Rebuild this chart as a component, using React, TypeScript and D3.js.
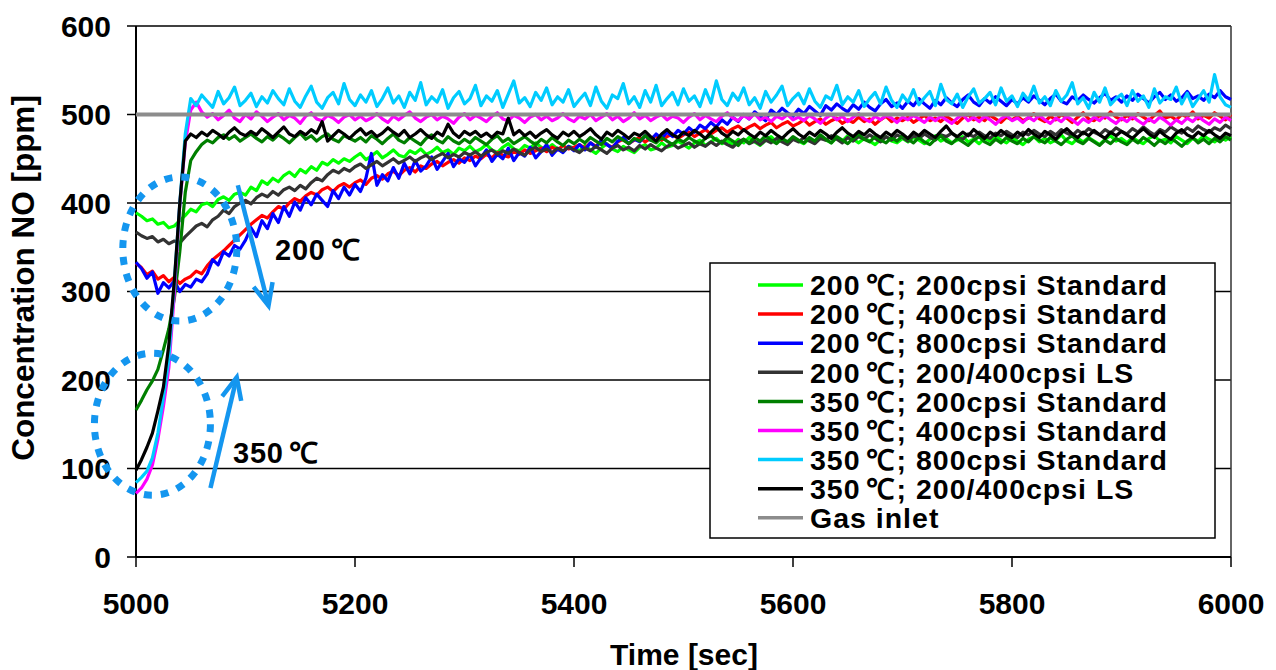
import React from "react";
import * as d3 from "d3";

// Sampling grid: one reading every 5 s from 5000 s to 6000 s
const TIME_START = 5000;
const TIME_STEP = 5;

const xTicks = [5000, 5200, 5400, 5600, 5800, 6000];
const yTicks = [0, 100, 200, 300, 400, 500, 600];

// 200 °C, 200 cpsi Standard
const t200_200 = [
  389,385,380,382,376,378,372,374,380,386,393,390,398,400,396,404,407,403,410,412,409,
  418,414,425,421,428,424,431,435,430,438,434,441,437,446,443,449,445,450,447,452,
  456,449,453,458,451,455,460,454,452,459,456,461,455,458,463,457,460,455,462,459,
  464,458,461,466,460,457,463,467,461,459,465,462,468,463,460,466,461,458,464,462,
  459,465,460,456,462,467,461,458,464,460,457,463,466,460,462,468,463,465,470,466,
  462,468,471,465,469,473,467,470,466,472,468,474,469,465,471,475,469,472,468,474,
  470,467,473,469,475,471,468,474,470,476,472,468,473,470,466,472,475,470,468,473,
  469,474,471,467,472,476,470,473,468,471,475,469,472,467,473,470,476,471,468,474,
  470,466,472,475,469,473,468,471,477,470,467,473,469,474,470,466,472,476,470,473,
  468,474,470,467,473,476,470,472,468,475,471,467,473,470,476,472,469,474,471,475,
];

// 200 °C, 400 cpsi Standard
const t200_400 = [
  332,327,319,323,314,318,311,316,309,314,317,323,320,329,336,341,346,352,358,364,370,
  376,381,386,383,390,396,393,400,405,402,408,412,409,415,418,413,419,422,418,423,
  426,421,428,431,427,433,436,431,437,440,435,442,439,444,447,442,446,449,445,451,
  448,453,450,455,451,457,454,452,458,455,460,456,459,462,458,463,460,465,461,463,
  466,462,468,464,470,466,463,469,472,467,471,474,469,473,476,471,475,478,473,477,
  480,475,479,483,478,482,485,480,484,487,482,486,489,484,488,491,485,489,492,487,
  490,494,488,492,495,489,493,496,490,494,491,497,492,495,489,494,498,492,496,493,
  497,491,495,499,493,496,492,498,494,490,496,500,494,497,493,499,495,491,497,494,
  498,493,496,501,495,492,498,494,500,496,491,497,502,495,493,499,496,503,497,494,
  499,495,501,497,493,499,504,496,498,494,500,497,503,495,499,496,502,498,494,500,
];

// 200 °C, 800 cpsi Standard
const t200_800 = [
  333,326,315,322,298,310,304,312,300,308,305,314,311,320,336,330,345,340,352,348,358,
  372,362,380,371,388,378,396,385,401,392,406,398,410,403,396,414,405,418,409,421,
  413,428,456,420,432,425,440,428,445,433,448,436,442,452,438,447,456,441,450,446,
  455,442,451,460,447,455,450,462,448,457,453,463,451,458,466,454,461,457,464,459,
  466,460,468,463,471,466,462,470,474,467,472,469,476,471,478,473,480,475,482,478,
  485,480,488,484,491,486,494,489,497,492,500,495,503,498,493,505,500,507,502,498,
  506,501,509,504,499,510,505,512,507,503,511,506,514,508,504,512,517,509,513,507,
  515,510,518,512,507,516,511,519,513,509,517,522,514,510,518,513,520,515,510,517,
  512,519,514,521,516,511,518,523,515,512,520,516,522,517,513,519,524,516,520,514,
  521,516,523,518,513,520,525,517,522,515,519,526,518,521,516,523,519,527,520,517,
];

// 200 °C, 200/400 cpsi LS
const t200_ls = [
  367,363,360,362,356,359,354,357,355,362,368,374,377,373,381,385,392,388,396,400,403,
  399,406,410,407,413,409,415,418,414,420,416,423,428,425,432,437,434,439,436,441,
  444,439,443,447,442,446,450,445,448,452,447,451,454,449,453,456,451,455,452,457,
  454,458,453,457,460,455,459,456,461,457,454,460,463,458,461,457,462,459,463,460,
  457,462,459,464,460,456,462,465,460,463,459,465,461,466,462,459,464,467,462,465,
  468,463,467,464,469,465,470,466,463,469,472,467,470,466,471,468,473,469,466,472,
  469,474,470,467,473,471,476,472,468,474,470,475,472,477,473,469,475,471,477,474,
  470,476,473,478,474,471,477,475,479,474,472,478,475,480,476,473,479,476,481,477,
  474,480,477,482,478,475,481,477,483,479,476,482,478,484,480,477,483,479,485,481,
  478,484,480,486,481,477,483,480,486,482,479,485,481,487,483,480,485,482,488,484,
];

// 350 °C, 200 cpsi Standard
const t350_200 = [
  166,177,189,199,212,234,258,292,345,412,448,458,466,471,468,474,477,472,476,470,474,
  478,473,469,475,471,477,473,468,474,479,472,476,470,475,478,472,469,476,473,470,
  474,469,476,472,467,473,478,471,468,474,470,466,473,477,471,468,475,470,467,472,
  468,474,470,466,472,476,469,473,467,471,475,470,466,472,468,474,469,465,471,467,
  472,468,474,470,466,473,469,475,471,467,473,470,476,471,468,474,470,466,472,469,
  474,470,467,473,476,471,468,474,470,465,472,468,474,470,476,471,467,473,469,475,
  471,468,474,470,477,472,468,475,471,467,473,478,472,469,475,471,468,474,470,476,
  472,468,474,469,466,472,476,470,467,473,469,465,471,475,469,466,472,468,474,470,
  467,473,469,475,471,468,474,470,466,472,476,470,467,473,469,465,471,467,473,469,
  466,472,468,474,470,465,471,467,473,469,464,470,474,468,472,467,473,469,475,471,
];

// 350 °C, 400 cpsi Standard
const t350_400 = [
  72,78,88,104,133,170,214,298,398,468,505,514,503,497,501,494,499,505,496,492,500,
  495,503,498,492,497,501,494,499,496,490,498,502,495,493,499,496,491,497,500,494,
  498,493,496,501,495,491,498,494,499,503,496,492,497,500,494,498,495,490,497,501,
  494,499,496,492,498,502,495,493,499,496,491,497,500,494,498,493,496,501,495,492,
  498,495,500,493,497,501,494,498,492,496,502,495,499,493,497,500,494,498,496,491,
  497,501,494,499,495,492,498,502,496,493,499,495,501,494,497,492,498,495,500,494,
  497,493,499,495,490,496,500,494,498,492,497,501,495,492,498,494,499,496,491,497,
  494,499,495,491,497,493,498,494,490,496,500,493,497,492,498,494,489,495,499,493,
  496,491,497,493,499,494,490,496,492,498,494,489,495,491,497,493,499,494,490,496,
  492,498,493,489,495,491,497,493,488,494,490,496,492,498,493,489,495,491,497,493,
];

// 350 °C, 800 cpsi Standard
const t350_800 = [
  84,90,97,112,140,180,224,310,400,478,518,510,522,515,508,526,512,519,531,510,516,
  524,509,520,513,527,518,511,529,515,508,521,532,514,507,519,525,512,535,517,510,
  522,514,527,509,518,530,513,521,508,525,516,536,511,520,514,528,507,519,526,512,
  518,533,510,521,515,527,508,523,538,513,519,509,525,516,530,511,520,514,528,509,
  517,524,510,531,515,507,522,518,535,512,520,508,527,514,533,510,518,525,511,529,
  515,521,509,528,513,538,517,510,524,516,530,511,519,507,526,514,522,532,510,518,
  524,512,529,515,508,521,517,533,511,520,514,527,509,518,525,512,531,516,508,522,
  514,528,511,519,526,510,534,517,512,523,508,520,529,513,518,525,511,530,515,521,
  509,524,516,532,513,520,510,527,515,522,536,512,519,507,525,514,530,511,518,523,
  510,527,515,521,508,529,513,520,517,531,512,524,509,518,527,514,545,520,511,508,
];

// 350 °C, 200/400 cpsi LS
const t350_ls = [
  98,110,124,140,165,192,240,312,400,470,478,474,480,476,482,478,473,480,485,479,476,
  481,477,484,479,474,480,486,478,475,481,477,483,479,492,470,476,482,478,473,479,
  484,477,481,475,479,485,480,476,482,474,478,483,477,473,480,476,489,479,474,481,
  477,481,475,479,474,480,478,496,477,482,476,480,474,479,483,477,473,480,476,481,
  475,479,484,477,472,480,476,482,478,473,479,476,481,475,470,478,483,477,474,480,
  476,482,478,473,480,486,479,475,481,477,483,478,474,480,476,482,477,473,479,484,
  478,474,480,476,482,478,473,480,485,479,475,481,477,483,478,474,480,476,482,478,
  473,480,476,482,478,474,481,487,479,475,480,476,483,478,473,480,476,482,477,474,
  480,476,483,478,474,481,477,472,479,484,478,474,480,476,482,477,473,480,476,481,
  477,473,479,484,478,474,481,476,472,479,483,477,474,480,476,482,477,473,479,476,
];

// Gas inlet: constant feed concentration
const gasInletTimes = [5000, 6000];
const gasInletValues = [500, 500];

// Legend entries: temperature and rest of the description
const seriesTemps = ["200", "200", "200", "200", "350", "350", "350", "350", ""];
const seriesNames = [
  "200cpsi Standard",
  "400cpsi Standard",
  "800cpsi Standard",
  "200/400cpsi LS",
  "200cpsi Standard",
  "400cpsi Standard",
  "800cpsi Standard",
  "200/400cpsi LS",
  "Gas inlet",
];
const seriesColors = [
  "#00ff00", "#ff0000", "#0000ff", "#333333",
  "#007f00", "#ff00ff", "#00ccff", "#000000", "#8c8c8c",
];
const seriesValues = [
  t200_200, t200_400, t200_800, t200_ls,
  t350_200, t350_400, t350_800, t350_ls,
];

const FONT = "'Liberation Sans', Arial, Helvetica, sans-serif";
const ANNOT = "#1496ef";

const W = 1276;
const H = 670;
const plot = { left: 136, right: 1231, top: 26, bottom: 557 };

// Temperature text with a spaced degree-Celsius sign
function Temp({ value, after = "" }: { value: string; after?: string }) {
  return (
    <>
      {value}
      <tspan dx={5}>℃</tspan>
      {after ? <tspan dx={2}>{after}</tspan> : null}
    </>
  );
}

export default function App() {
  const x = d3.scaleLinear().domain([5000, 6000]).range([plot.left, plot.right]);
  const y = d3.scaleLinear().domain([0, 600]).range([plot.bottom, plot.top]);

  const line = d3
    .line<[number, number]>()
    .x((d) => x(d[0]))
    .y((d) => y(d[1]))
    .curve(d3.curveLinear);

  const paths = seriesValues.map((vals) =>
    line(vals.map((v, i) => [TIME_START + i * TIME_STEP, v] as [number, number]))
  );
  const gasPath = line(gasInletTimes.map((t, i) => [t, gasInletValues[i]] as [number, number]));

  // Legend layout
  const lg = { x: 710, y: 263, w: 505, h: 275, row0: 285, dy: 29.1 };

  // Annotation ellipses, placed in data coordinates
  const upper = { cx: x(5040), cy: y(348), rx: 57, ry: 72 };
  const lower = { cx: x(5015), cy: y(150), rx: 58, ry: 71 };

  const arrow = (x1: number, y1: number, x2: number, y2: number) => {
    const ang = Math.atan2(y2 - y1, x2 - x1);
    const len = 24;
    const spread = 0.42;
    const a1 = [x2 - len * Math.cos(ang - spread), y2 - len * Math.sin(ang - spread)];
    const a2 = [x2 - len * Math.cos(ang + spread), y2 - len * Math.sin(ang + spread)];
    return (
      <g stroke={ANNOT} strokeWidth={4.5} fill="none" strokeLinecap="butt" strokeLinejoin="miter">
        <line x1={x1} y1={y1} x2={x2} y2={y2} />
        <polyline points={`${a1[0]},${a1[1]} ${x2},${y2} ${a2[0]},${a2[1]}`} />
      </g>
    );
  };

  return (
    <svg
      width={W}
      height={H}
      style={{ position: "absolute", left: 0, top: 0, background: "#fff" }}
      fontFamily={FONT}
      fontWeight="bold"
    >
      <rect x={0} y={0} width={W} height={H} fill="#fff" />

      {/* horizontal gridlines */}
      {yTicks.map((t) => (
        <line key={`g${t}`} x1={plot.left} x2={plot.right} y1={y(t)} y2={y(t)} stroke="#000" strokeWidth={1.3} />
      ))}
      {/* right border */}
      <line x1={plot.right} x2={plot.right} y1={plot.top} y2={plot.bottom} stroke="#333" strokeWidth={1.5} />

      {/* y axis */}
      <line x1={plot.left} x2={plot.left} y1={plot.top} y2={plot.bottom} stroke="#000" strokeWidth={2} />
      {yTicks.map((t) => (
        <g key={`y${t}`}>
          <line x1={plot.left - 9} x2={plot.left} y1={y(t)} y2={y(t)} stroke="#000" strokeWidth={1.5} />
          <text x={111} y={y(t)} dy="0.36em" textAnchor="end" fontSize={30}>
            {t}
          </text>
        </g>
      ))}

      {/* x axis */}
      <line x1={plot.left} x2={plot.right} y1={plot.bottom} y2={plot.bottom} stroke="#000" strokeWidth={2} />
      {xTicks.map((t) => (
        <g key={`x${t}`}>
          <line x1={x(t)} x2={x(t)} y1={plot.bottom} y2={plot.bottom + 10} stroke="#000" strokeWidth={1.5} />
          <text x={x(t)} y={614} textAnchor="middle" fontSize={30}>
            {t}
          </text>
        </g>
      ))}

      {/* measured curves */}
      {paths.map((d, i) => (
        <path key={`s${i}`} d={d ?? ""} fill="none" stroke={seriesColors[i]} strokeWidth={3.2} strokeLinejoin="round" />
      ))}
      <path d={gasPath ?? ""} fill="none" stroke={seriesColors[8]} strokeWidth={4} />

      {/* annotations */}
      <ellipse cx={upper.cx} cy={upper.cy} rx={upper.rx} ry={upper.ry} fill="none" stroke={ANNOT} strokeWidth={7} strokeDasharray="8 9" />
      <ellipse cx={lower.cx} cy={lower.cy} rx={lower.rx} ry={lower.ry} fill="none" stroke={ANNOT} strokeWidth={7} strokeDasharray="8 9" />
      {arrow(x(5093), y(420), x(5121), y(284))}
      {arrow(x(5068), y(78), x(5092), y(203))}
      <text x={275} y={260} fontSize={29} letterSpacing={0.8}>
        <Temp value="200" />
      </text>
      <text x={233} y={463} fontSize={29} letterSpacing={0.8}>
        <Temp value="350" />
      </text>

      {/* legend */}
      <rect x={lg.x} y={lg.y} width={lg.w} height={lg.h} fill="#fff" stroke="#000" strokeWidth={1.5} />
      {seriesNames.map((name, i) => {
        const cy = lg.row0 + i * lg.dy;
        return (
          <g key={`l${i}`}>
            <line x1={758} x2={803} y1={cy} y2={cy} stroke={seriesColors[i]} strokeWidth={3.5} />
            <text x={810} y={cy} dy="0.36em" fontSize={28.5} letterSpacing={1}>
              {seriesTemps[i] ? <Temp value={seriesTemps[i]} after={"; " + name} /> : name}
            </text>
          </g>
        );
      })}

      {/* axis titles */}
      <text x={684} y={665} textAnchor="middle" fontSize={30}>
        Time [sec]
      </text>
      <text transform={`translate(34, 278) rotate(-90)`} textAnchor="middle" fontSize={31.5}>
        Concentration NO [ppm]
      </text>
    </svg>
  );
}
